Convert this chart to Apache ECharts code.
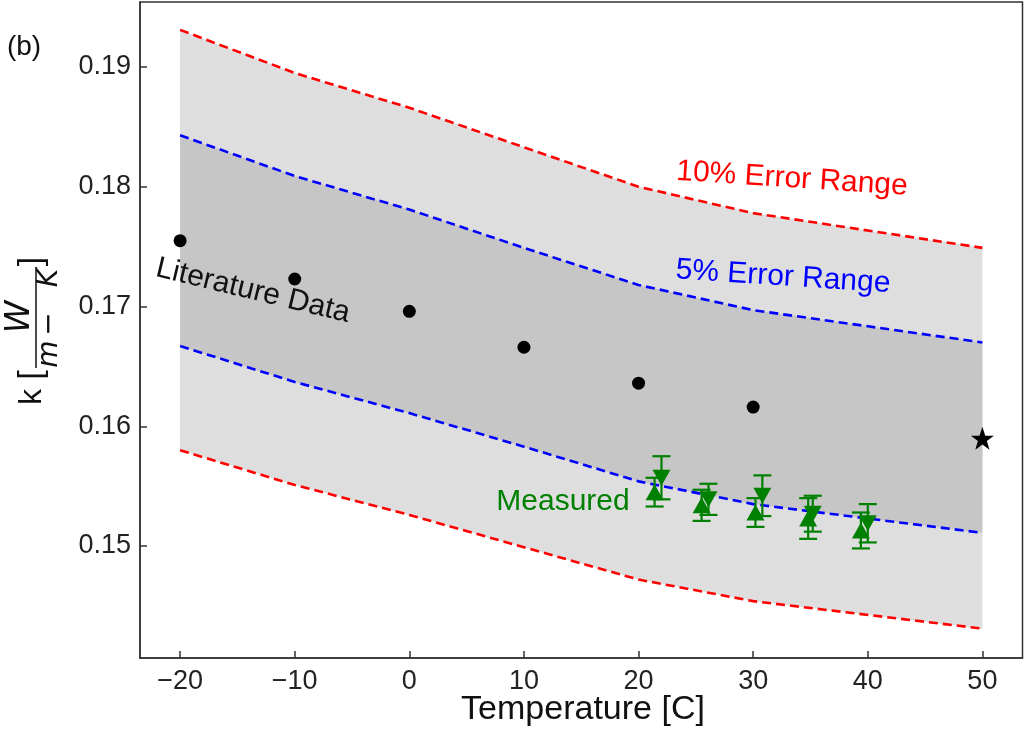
<!DOCTYPE html>
<html>
<head>
<meta charset="utf-8">
<script src="https://cdn.jsdelivr.net/npm/echarts@6/dist/echarts.min.js"></script>
<style>
  html, body { margin: 0; padding: 0; background: #ffffff; }
  #chart { width: 1025px; height: 732px; }
</style>
</head>
<body>
<div id="chart"></div>
<script>
// Thermal conductivity vs temperature: literature values, error bands and measurements
const litTemp = [-20, -10, 0, 10, 20, 30];
const litK = [0.1755, 0.1723, 0.1696, 0.1666, 0.1636, 0.1616];

const starTemp = [50];
const starK = [0.1590];

// Band outlines (±5 % and ±10 % around the literature curve)
const bandTemp = [-20, -10, 0, 10, 20, 30, 50];
const upper10 = [0.1931, 0.1895, 0.1866, 0.1833, 0.1800, 0.1778, 0.1749];
const upper5 = [0.1843, 0.1809, 0.1781, 0.1749, 0.1718, 0.1697, 0.1670];
const lower5 = [0.1667, 0.1637, 0.1611, 0.1583, 0.1554, 0.1535, 0.1511];
const lower10 = [0.1580, 0.1551, 0.1526, 0.1499, 0.1472, 0.1454, 0.1431];

// Measured runs (two sets, up / down triangles) with their uncertainties
const upTemp = [21.4, 25.5, 30.2, 34.8, 39.4];
const upK = [0.1545, 0.1534, 0.1528, 0.1523, 0.1513];
const upErr = [0.0012, 0.0013, 0.0012, 0.0017, 0.0015];

const downTemp = [22.0, 26.1, 30.8, 35.2, 40.0];
const downK = [0.1557, 0.1539, 0.1542, 0.1527, 0.1519];
const downErr = [0.0018, 0.0013, 0.0017, 0.0015, 0.0016];

const xTicks = [-20, -10, 0, 10, 20, 30, 40, 50];
const yTicks = [0.15, 0.16, 0.17, 0.18, 0.19];

const FONT = '"Liberation Sans", Arial, Helvetica, sans-serif';
const MATH = '"DejaVu Sans", sans-serif';
const GREEN = '#008000';
const FRAME = '#333333';

const pairs = (xs, ys) => xs.map((x, i) => [x, ys[i]]);
const triples = (xs, ys, es) => xs.map((x, i) => [x, ys[i], es[i]]);

const chart = echarts.init(document.getElementById('chart'), null, { renderer: 'canvas' });

function bandItem(params, api) {
  const poly = (hi, lo) => {
    const pts = [];
    bandTemp.forEach((t, i) => pts.push(api.coord([t, hi[i]])));
    for (let i = bandTemp.length - 1; i >= 0; i--) pts.push(api.coord([bandTemp[i], lo[i]]));
    return pts;
  };
  return {
    type: 'group',
    children: [
      { type: 'polygon', shape: { points: poly(upper10, lower10) }, style: { fill: '#dedede' } },
      { type: 'polygon', shape: { points: poly(upper5, lower5) }, style: { fill: '#c6c6c6' } }
    ]
  };
}

function errorItem(params, api) {
  const t = api.value(0), k = api.value(1), e = api.value(2);
  const hi = api.coord([t, k + e]);
  const lo = api.coord([t, k - e]);
  const cap = 9;
  const st = { stroke: GREEN, lineWidth: 2.2 };
  return {
    type: 'group',
    children: [
      { type: 'line', shape: { x1: hi[0], y1: hi[1], x2: lo[0], y2: lo[1] }, style: st },
      { type: 'line', shape: { x1: hi[0] - cap, y1: hi[1], x2: hi[0] + cap, y2: hi[1] }, style: st },
      { type: 'line', shape: { x1: lo[0] - cap, y1: lo[1], x2: lo[0] + cap, y2: lo[1] }, style: st }
    ]
  };
}

const dashed = (ys, color) => ({
  type: 'line',
  data: pairs(bandTemp, ys),
  symbol: 'none',
  silent: true,
  z: 3,
  lineStyle: { color: color, width: 2.6, type: [9, 5] }
});

const starPath = 'path://M50,0 L61.8,35.1 L97.6,35.1 L68.5,56.8 L79.4,91 L50,70 L20.6,91 L31.5,56.8 L2.4,35.1 L38.2,35.1 Z';

const axisCommon = {
  type: 'value',
  splitLine: { show: false },
  axisLine: { show: true, onZero: false, lineStyle: { color: FRAME, width: 1.5 } }
};

const textEl = (x, y, text, size, color, rot) => ({
  type: 'text', x: x, y: y, z: 100, rotation: (rot || 0) * Math.PI / 180,
  style: { text: text, fontSize: size, fontFamily: FONT, fill: color, align: 'center', verticalAlign: 'middle' }
});

const option = {
  animation: false,
  backgroundColor: '#ffffff',
  grid: {
    left: 140, right: 2.5, top: 2, bottom: 74,
    show: true, borderColor: FRAME, borderWidth: 1.5, backgroundColor: 'transparent'
  },
  xAxis: Object.assign({}, axisCommon, {
    min: -23.5, max: 53.5,
    axisTick: { show: true, inside: true, length: 7, customValues: xTicks, lineStyle: { color: FRAME, width: 1.5 } },
    axisLabel: {
      customValues: xTicks, margin: 10, color: '#222', fontSize: 27, fontFamily: FONT,
      formatter: v => (v < 0 ? '\u2212' + Math.abs(v) : String(v))
    }
  }),
  yAxis: Object.assign({}, axisCommon, {
    min: 0.14065, max: 0.19543,
    axisTick: { show: true, inside: true, length: 7, customValues: yTicks, lineStyle: { color: FRAME, width: 1.5 } },
    axisLabel: {
      customValues: yTicks, margin: 9, color: '#222', fontSize: 27, fontFamily: FONT,
      formatter: v => v.toFixed(2)
    }
  }),
  series: [
    { type: 'custom', renderItem: bandItem, data: [[bandTemp[0], upper10[0]]], silent: true, z: 1, clip: true },
    dashed(upper10, '#ff0000'),
    dashed(lower10, '#ff0000'),
    dashed(upper5, '#0000ff'),
    dashed(lower5, '#0000ff'),
    {
      type: 'scatter', data: pairs(litTemp, litK), symbol: 'circle', symbolSize: 13,
      itemStyle: { color: '#000000', opacity: 1 }, z: 5
    },
    {
      type: 'scatter', data: pairs(starTemp, starK), symbol: starPath, symbolSize: 23,
      itemStyle: { color: '#000000', opacity: 1 }, z: 5
    },
    { type: 'custom', renderItem: errorItem, data: triples(upTemp, upK, upErr), encode: { x: 0, y: 1 }, z: 4, silent: true },
    { type: 'custom', renderItem: errorItem, data: triples(downTemp, downK, downErr), encode: { x: 0, y: 1 }, z: 4, silent: true },
    {
      type: 'scatter', data: pairs(upTemp, upK), symbol: 'triangle', symbolSize: [18, 16],
      itemStyle: { color: GREEN, opacity: 1 }, z: 6
    },
    {
      type: 'scatter', data: pairs(downTemp, downK), symbol: 'triangle', symbolSize: [18, 16], symbolRotate: 180,
      itemStyle: { color: GREEN, opacity: 1 }, z: 6
    }
  ],
  graphic: [
    textEl(24, 47, '(b)', 28, '#111'),
    textEl(253, 291, 'Literature Data', 30, '#111', -13.5),
    textEl(783, 277, '5% Error Range', 30, '#0000ff', -3.7),
    textEl(792, 179, '10% Error Range', 30, '#ff0000', -3.7),
    textEl(563, 502, 'Measured', 30, GREEN),
    textEl(583, 710, 'Temperature [C]', 34, '#111'),
    {
      // vertical axis title: k [W / (m − K)] as a stacked fraction
      type: 'group', x: 0, y: 405, rotation: Math.PI / 2, z: 100,
      children: [
        { type: 'text', x: 8, y: 32, style: { text: 'k', fontSize: 32, fontFamily: FONT, fill: '#111', align: 'center', verticalAlign: 'middle' } },
        { type: 'text', x: 30, y: 32, style: { text: '[', fontSize: 34, fontFamily: FONT, fill: '#111', align: 'center', verticalAlign: 'middle' } },
        { type: 'text', x: 88, y: 20, style: { text: 'W', fontSize: 33, fontFamily: MATH, fontStyle: 'italic', fill: '#111', align: 'center', verticalAlign: 'middle' } },
        { type: 'line', shape: { x1: 37, y1: 36, x2: 138, y2: 36 }, style: { stroke: '#111', lineWidth: 1.5 } },
        { type: 'text', x: 51, y: 50, style: { text: 'm', fontSize: 28, fontFamily: MATH, fontStyle: 'italic', fill: '#111', align: 'center', verticalAlign: 'middle' } },
        { type: 'text', x: 81, y: 50, style: { text: '\u2212', fontSize: 28, fontFamily: MATH, fill: '#111', align: 'center', verticalAlign: 'middle' } },
        { type: 'text', x: 127, y: 50, style: { text: 'K', fontSize: 28, fontFamily: MATH, fontStyle: 'italic', fill: '#111', align: 'center', verticalAlign: 'middle' } },
        { type: 'text', x: 143.5, y: 32, style: { text: ']', fontSize: 34, fontFamily: FONT, fill: '#111', align: 'center', verticalAlign: 'middle' } }
      ]
    }
  ]
};

chart.setOption(option);
</script>
</body>
</html>
